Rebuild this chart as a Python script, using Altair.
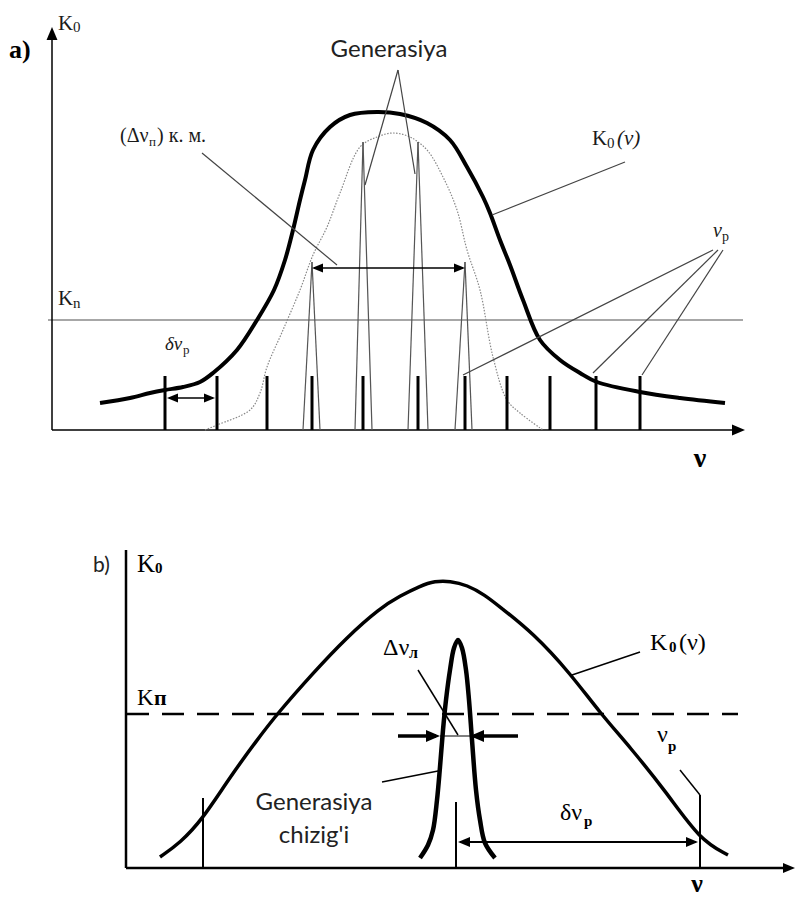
import altair as alt
import pandas as pd

# ---------------- panel a) ----------------
# frequency nu and gain K measured from the origin of the axes
a_gain_nu = [48, 78, 98, 113, 131, 148, 161, 185, 205, 222, 233, 241, 248, 253, 261, 278, 298,
             325, 348, 375, 398, 415, 431, 438, 448, 458, 471, 488, 508, 528, 545, 588, 628, 673]
a_gain_k = [27, 32, 37, 40, 43, 48, 57, 80, 110, 140, 170, 200, 230, 250, 280, 303, 315,
            318, 316, 307, 290, 263, 233, 217, 190, 165, 130, 90, 70, 57, 48, 38, 32, 27]

# contour of the gain line (dotted)
a_line_nu = [153, 165, 198, 208, 215, 231, 248, 261, 275, 288, 308, 325, 341, 358, 375,
             391, 405, 415, 428, 441, 455, 468, 491]
a_line_k = [0, 5, 20, 37, 63, 100, 140, 175, 203, 237, 283, 293, 297, 293, 280,
            253, 220, 180, 140, 73, 30, 17, 0]

a_modes_nu = [113, 165, 215, 260, 311, 366, 413, 455, 498, 544, 588]
a_mode_top = 54
a_threshold = 110

# generation spikes: peak and the two ends of the base
a_spike_peak_nu = [260, 311, 366, 413]
a_spike_peak_k = [168, 288, 288, 168]
a_spike_left = [251, 303, 356, 403]
a_spike_right = [268, 320, 376, 420]

# ---------------- panel b) ----------------
b_gain_nu = [34, 54, 76, 104, 131, 151, 187, 221, 254, 274, 294, 309, 324, 341, 359, 374, 407,
             444, 474, 504, 541, 574, 602]
b_gain_k = [11, 25, 48, 91, 128, 154, 195, 231, 260, 272, 282, 287, 287, 283, 273, 261, 235,
            195, 155, 121, 75, 28, 13]

b_line_nu = [294, 302, 307, 311, 314, 317, 320, 324, 328, 332, 336, 340, 343, 346,
             350, 354, 359, 369]
b_line_k = [10, 23, 38, 68, 101, 138, 168, 198, 220, 228, 220, 198, 168, 128,
            78, 48, 25, 10]

b_modes_nu = [77, 330, 574]
b_modes_top = [70, 66, 73]
b_threshold = 154

XA = alt.Scale(domain=[-52, 743], nice=False, zero=False)
YA = alt.Scale(domain=[-60, 430], nice=False, zero=False)
XB = alt.Scale(domain=[-126, 669], nice=False, zero=False)
YB = alt.Scale(domain=[-29, 378], nice=False, zero=False)

SERIF = "Liberation Serif"
SANS = "Lato"


def xy(xs, ys):
    return dict(x=alt.X("nu:Q", scale=xs, axis=None),
                y=alt.Y("k:Q", scale=ys, axis=None))


def curve(nu, k, xs, ys, interpolate="catmull-rom", **mark):
    df = pd.DataFrame({"nu": nu, "k": k})
    return alt.Chart(df).mark_line(interpolate=interpolate, **mark).encode(**xy(xs, ys))


def segments(rows, xs, ys, **mark):
    df = pd.DataFrame(rows, columns=["nu", "k", "nu2", "k2"])
    return alt.Chart(df).mark_rule(**mark).encode(x2="nu2:Q", y2="k2:Q", **xy(xs, ys))


HEADS = {
    "right": "M0,0L-1,-0.42L-1,0.42Z",
    "left": "M0,0L1,-0.42L1,0.42Z",
    "up": "M0,0L-0.42,1L0.42,1Z",
}


def heads(rows, xs, ys, length):
    df = pd.DataFrame(rows, columns=["nu", "k", "dir"])
    return alt.Chart(df).mark_point(filled=True, opacity=1, color="black", strokeWidth=0,
                                    size=4 * length ** 2).encode(
        shape=alt.Shape("dir:N", scale=alt.Scale(domain=list(HEADS), range=list(HEADS.values())),
                        legend=None),
        **xy(xs, ys))


def label(text, nu, k, xs, ys, size, font=SERIF, color="#1a1a1a", align="left", **mark):
    df = pd.DataFrame({"nu": [nu], "k": [k], "t": [text]})
    return alt.Chart(df).mark_text(align=align, baseline="alphabetic", font=font,
                                   fontSize=size, color=color, **mark).encode(
        text="t:N", **xy(xs, ys))


# ---------- layers of panel a ----------
spike_rows = []
for pn, pk, l, r in zip(a_spike_peak_nu, a_spike_peak_k, a_spike_left, a_spike_right):
    spike_rows.append((l, 0, pn, pk))
    spike_rows.append((pn, pk, r, 0))

layers_a = [
    segments([(-4, a_threshold, 691, a_threshold)], XA, YA, color="#8a8a8a", strokeWidth=1.5),
    segments([(0, 0, 0, 400), (0, 0, 690, 0)], XA, YA, color="black", strokeWidth=1.5),
    curve(a_line_nu, a_line_k, XA, YA, color="#888", strokeWidth=1.2, strokeDash=[1.5, 1.5]),
    segments(spike_rows, XA, YA, color="#555", strokeWidth=1.2),
    segments([(n, 0, n, a_mode_top) for n in a_modes_nu], XA, YA, color="black", strokeWidth=3),
    curve(a_gain_nu, a_gain_k, XA, YA, color="black", strokeWidth=4),
    # leader lines
    segments([(346, 360, 313, 245), (346, 360, 363, 256),
              (150, 277, 285, 165),
              (573, 268, 440, 215),
              (661, 180, 411, 55), (666, 180, 541, 57), (671, 180, 590, 55)],
             XA, YA, color="#444", strokeWidth=1.2),
    # interval arrows
    segments([(262, 162, 411, 162), (117, 32, 161, 32)], XA, YA, color="black", strokeWidth=1.3),
    heads([(260, 162, "left"), (413, 162, "right"), (115, 32, "left"), (163, 32, "right")],
          XA, YA, 11),
    heads([(0, 403, "up"), (693, 0, "right")], XA, YA, 13),
    # texts
    label("a)", -43, 372, XA, YA, 26, fontWeight="bold", color="black"),
    label("K", 6, 400, XA, YA, 21),
    label("0", 21, 398, XA, YA, 15),
    label("K", 6, 125, XA, YA, 21),
    label("n", 21, 122, XA, YA, 15),
    label("Generasiya", 337, 373, XA, YA, 24, font=SANS, align="center", color="#222"),
    label("(Δν", 68, 288, XA, YA, 20),
    label("п", 97, 284, XA, YA, 13),
    label(")  к. м.", 105, 288, XA, YA, 20),
    label("K", 540, 285, XA, YA, 21),
    label("0", 555, 282, XA, YA, 15),
    label("(ν)", 565, 285, XA, YA, 21, fontStyle="italic"),
    label("ν", 661, 193, XA, YA, 20, fontStyle="italic"),
    label("p", 670, 189, XA, YA, 14),
    label("δν", 113, 80, XA, YA, 19, fontStyle="italic"),
    label("p", 131, 76, XA, YA, 13),
    label("ν", 648, -37, XA, YA, 28, align="center", fontWeight="bold", color="black"),
]

# ---------- layers of panel b ----------
layers_b = [
    segments([(1, b_threshold, 612, b_threshold)], XB, YB, color="black", strokeWidth=2.5,
             strokeDash=[22, 13]),
    segments([(0, 0, 0, 318), (0, 0, 660, 0)], XB, YB, color="black", strokeWidth=2.5),
    segments([(n, 0, n, t) for n, t in zip(b_modes_nu, b_modes_top)], XB, YB,
             color="black", strokeWidth=2),
    curve(b_gain_nu, b_gain_k, XB, YB, interpolate="basis", color="black", strokeWidth=3.5),
    curve(b_line_nu, b_line_k, XB, YB, color="black", strokeWidth=4.5),
    segments([(292, 198, 332, 133), (514, 216, 446, 193), (554, 98, 574, 73),
              (256, 86, 312, 97)], XB, YB, color="black", strokeWidth=1.5),
    segments([(314, 132, 344, 132)], XB, YB, color="black", strokeWidth=1),
    segments([(334, 26, 570, 26)], XB, YB, color="black", strokeWidth=2),
    segments([(272, 132, 310, 132), (348, 132, 392, 132)], XB, YB, color="black", strokeWidth=3.5),
    heads([(314, 132, "right"), (344, 132, "left")], XB, YB, 14),
    heads([(332, 26, "left"), (572, 26, "right"), (669, 0, "right")], XB, YB, 12),
    # texts
    label("b)", -33, 296, XB, YB, 21, font=SANS, color="#222"),
    label("K", 11, 296, XB, YB, 25, color="black"),
    label("0", 29, 295, XB, YB, 15, fontWeight="bold", color="black"),
    label("K", 11, 163, XB, YB, 23, color="black"),
    label("п", 28, 163, XB, YB, 22, fontWeight="bold", color="black"),
    label("K", 524, 218, XB, YB, 24, color="black"),
    label("0", 543, 216, XB, YB, 15, fontWeight="bold", color="black"),
    label("(ν)", 553, 218, XB, YB, 24, color="black"),
    label("Δν", 257, 213, XB, YB, 24, color="black"),
    label("л", 283, 210, XB, YB, 16, fontWeight="bold", color="black"),
    label("ν", 531, 126, XB, YB, 24, color="black"),
    label("p", 542, 117, XB, YB, 15, fontWeight="bold", color="black"),
    label("δν", 434, 48, XB, YB, 24, color="black"),
    label("p", 458, 42, XB, YB, 15, fontWeight="bold", color="black"),
    label("Generasiya", 188, 58, XB, YB, 24, font=SANS, align="center", color="#222"),
    label("chizig'i", 188, 25, XB, YB, 24, font=SANS, align="center", color="#222"),
    label("ν", 571, -24, XB, YB, 26, align="center", fontWeight="bold", color="black"),
]

panel_a = alt.layer(*layers_a).properties(width=795, height=490)
panel_b = alt.layer(*layers_b).properties(width=795, height=407)

chart = (
    alt.vconcat(panel_a, panel_b, spacing=0, bounds="flush")
    .properties(padding=0, background="white")
    .configure_view(stroke=None)
)

chart.save("out.html", embed_options={"renderer": "svg", "actions": False})
